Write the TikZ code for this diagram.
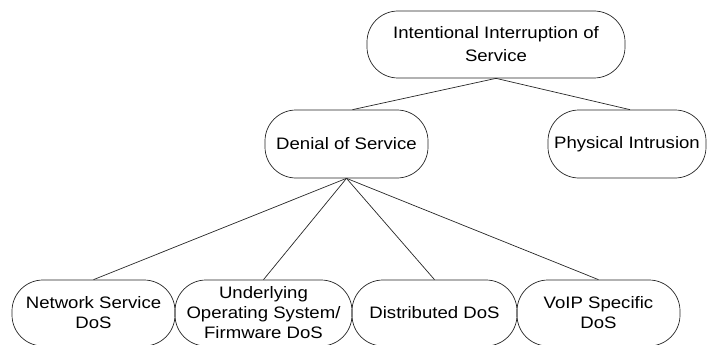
\documentclass[tikz,border=0pt]{standalone}
\usepackage{fontspec}
\setmainfont{Liberation Sans}[FakeStretch=1.12]
\begin{document}
\begin{tikzpicture}[x=1pt,y=-1pt,
  pill/.style={draw=black!85,line width=0.7pt,rounded corners=31pt,align=center,
    inner sep=0pt,font=\fontsize{16.6}{23}\selectfont},
  pillb/.style={pill,minimum height=66pt,font=\fontsize{16.6}{20}\selectfont},
  link/.style={draw=black!85,line width=0.7pt}]
\useasboundingbox (0,0) rectangle (707,345);
\node[pill,minimum width=258pt,minimum height=67pt] (top) at (496,44.5) {Intentional Interruption of\\Service};
\node[pill,minimum width=163pt,minimum height=68pt] (dos) at (346.5,144) {Denial of Service};
\node[pill,minimum width=158pt,minimum height=68pt] (phys) at (627,144) {Physical Intrusion};
\node[pillb,minimum width=163pt] (net) at (93.5,313) {Network Service\\DoS};
\node[pillb,minimum width=177pt] (und) at (263.5,313) {Underlying\\Operating System/\\Firmware DoS};
\node[pillb,minimum width=165pt] (dist) at (434.5,313) {Distributed DoS};
\node[pillb,minimum width=163pt] (voip) at (598.5,313) {VoIP Specific\\DoS};
\draw[link] (top.south) -- ([xshift=6pt]dos.north);
\draw[link] (top.south) -- ([xshift=3pt]phys.north);
\draw[link] (dos.south) -- (net.north);
\draw[link] (dos.south) -- (und.north);
\draw[link] (dos.south) -- (dist.north);
\draw[link] (dos.south) -- (voip.north);
\end{tikzpicture}
\end{document}
